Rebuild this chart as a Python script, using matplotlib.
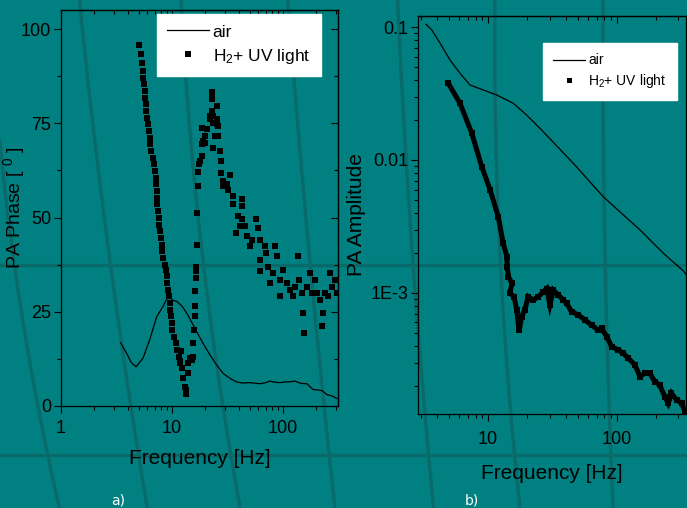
import numpy as np
import matplotlib
matplotlib.use('Agg')
import matplotlib.pyplot as plt
from matplotlib.ticker import FixedLocator, FuncFormatter, LogLocator, NullFormatter

plt.rcParams['font.family'] = ['Liberation Sans', 'DejaVu Sans']
plt.rcParams['mathtext.default'] = 'regular'

# ---- a) PA phase ----
air_f_a = [3.45, 3.9, 4.3, 4.75, 5.5, 6.3, 7.3, 8.3, 9.3, 10.2, 11.0, 12.3, 13.6, 15.5,
           17.9, 21, 25.3, 29, 33.4, 38, 43, 50, 62, 70, 76, 85, 94, 105, 115, 128, 145,
           164, 186, 224, 249, 280, 306]
air_ph_a = [16.8, 14.0, 11.5, 10.4, 12.8, 17.6, 23.8, 26.4, 29.4, 28.0, 27.8, 26.5, 24.6, 21.5,
            18.0, 14.5, 10.8, 8.6, 7.3, 6.4, 6.1, 6.2, 5.9, 6.2, 6.6, 6.3, 6.2, 6.4, 6.4, 6.6, 6.0,
            5.9, 4.4, 4.1, 3.0, 2.6, 2.0]

h2_f_a = [5.08, 5.23, 5.32, 5.45, 5.51, 5.58, 5.66, 5.73, 5.80, 5.88, 5.98, 6.1, 6.2, 6.27, 6.37,
          6.5, 6.7, 6.88, 7.07, 7.2, 7.2, 7.3, 7.35, 7.4, 7.5, 7.6, 7.7, 7.8, 7.98, 8.1, 8.2, 8.33,
          8.6, 8.8, 8.95, 9.1, 9.26, 9.4, 9.5, 9.65, 9.78, 10.0, 10.1, 10.35, 10.9, 11.2, 11.6,
          11.8, 12.2, 12.5, 13.1, 13.3, 13.5, 12.0, 11.9,
          14.0, 14.5, 15.0, 15.6, 13.8, 15.6, 15.9, 16.0, 16.1, 16.2, 16.4, 16.5, 16.6, 16.8,
          16.9, 17.0, 17.2, 17.5, 17.9, 18.5, 18.5, 19.1, 19.8, 18.5, 20.5, 22, 22.7, 22.7, 22.9,
          23.5, 25.3, 24.4, 25.3, 26.1, 22.7, 25.3, 22, 23.5, 26.1, 23.5, 19.8, 27.1, 27.9, 27.9,
          28.9, 28.9, 31.0, 33.4, 32.0, 35.7, 35.7, 42.3, 42.3, 39.4, 42.3, 37.7, 40.9, 45.3,
          46.9, 50.4, 52.2, 57.6, 59.6, 61.8, 61.8, 61.8, 68.4, 70.7, 73.2, 84.3, 87.4, 81.4,
          75.9, 94.4, 94.4, 101, 108, 116, 124, 128, 137, 140, 147, 152, 156, 163, 175, 181,
          194, 201, 216, 223, 228, 238, 256, 265, 275, 294, 305]
h2_ph_a = [95.7, 93.4, 91.1, 88.9, 87.1, 85.4, 83.6, 81.8, 80.1, 78.3, 76.5, 74.7, 72.9, 71.2, 69.4,
           67.6, 65.9, 64.1, 62.3, 60.6, 58.8, 57.0, 55.2, 53.5, 51.7, 49.9, 48.1, 46.4, 44.6,
           42.8, 41.0, 39.3, 37.5, 36.2, 34.4, 32.6, 30.9, 29.1, 27.3, 25.5, 23.8, 22.0, 20.2,
           18.4, 16.7, 14.9, 13.1, 11.4, 10.0, 7.4, 5.1, 4.3, 3.2, 14.5, 12.0,
           11.4, 12.7, 12.2, 13.1, 8.7, 16.7, 20.2, 23.8, 26.4, 30.4, 34.0, 35.7, 37.0, 42.8,
           51.2, 58.3, 62.1, 64.1, 65.0, 66.3, 69.4, 70.3, 71.6, 73.8, 73.4, 76.1, 78.3, 81.4, 83.2,
           77.0, 79.6, 71.6, 74.7, 71.6, 82.7, 76.1, 77.0, 75.2, 74.3, 68.5, 69.9, 67.7, 65.0, 61.9,
           59.7, 58.3, 58.8, 61.4, 57.4, 55.7, 53.5, 54.8, 53.0, 50.4, 49.5, 45.9, 47.7, 47.7,
           45.0, 42.4, 44.1, 49.5, 47.3, 44.1, 38.8, 35.7, 42.4, 40.6, 37.0, 42.4, 39.7, 35.3,
           32.6, 33.5, 29.1, 36.2, 32.6, 30.9, 29.1, 31.7, 39.7, 33.5, 30.0, 24.6, 19.3, 31.7, 35.3,
           30.0, 33.5, 30.0, 28.2, 21.1, 24.6, 30.0, 29.1, 35.3, 31.7, 33.5, 30.0]

# ---- b) PA amplitude ----
air_f_b = [3.3, 3.66, 4.25, 5.07, 6.06, 7.25, 9.2, 11.7, 15.7, 19.9, 25.3, 45.9, 78.3, 151, 229, 327, 343]
air_amp_b = [0.105, 0.095, 0.0754, 0.0565, 0.0449, 0.0366, 0.0336, 0.0308, 0.0267, 0.0218, 0.0173,
             0.00944, 0.0053, 0.00298, 0.00199, 0.00147, 0.00138]

h2_f_b = [4.92, 6.06, 7.48, 8.94, 10.4, 12.0, 13.1, 14.0, 14.1, 14.4, 15.3, 14.8, 15.9, 16.7, 17.4,
          17.5, 18.2, 19.3, 20.5, 22.4, 24.6, 26.8, 28.5, 30.2, 32.1, 35.1, 38.4, 40.7, 44.5, 50.1,
          56.5, 63.6, 71.5, 76.0, 83.3, 91.1, 102.5, 112, 122.5, 138, 151, 164, 180, 197, 215,
          235, 250, 265, 290, 318, 338]
h2_amp_b = [0.0377, 0.0267, 0.0159, 0.0089, 0.00594, 0.00375, 0.00237, 0.00188, 0.00158, 0.00133,
            0.00118, 0.000995, 0.000938, 0.000745, 0.000527, 0.000527, 0.000664, 0.000745, 0.000938,
            0.000885, 0.000938, 0.00102, 0.00108, 0.000813, 0.00105, 0.000966, 0.000885, 0.000836,
            0.000723, 0.000684, 0.000627, 0.000574, 0.000527, 0.000542, 0.00047, 0.000395, 0.000373,
            0.000352, 0.000323, 0.000288, 0.000235, 0.000249, 0.000249, 0.000215, 0.000203,
            0.000166, 0.000148, 0.000176, 0.000157, 0.000148, 0.000128]

# slide background decoration (pixel coords: x, y)
bg_curves = [
    [(80, 0), (86, 77), (100, 170), (108, 254), (132, 410), (147, 508)],
    [(180, 0), (190, 100), (200, 254), (223, 400), (240, 508)],
    [(288, 0), (295, 100), (310, 254), (323, 400), (335, 508)],
    [(0, 140), (20, 310), (50, 455), (58, 508)],
    [(398, 0), (402, 100), (412, 254), (425, 400), (433, 508)],
    [(495, 0), (500, 254), (520, 508)],
    [(603, 0), (605, 254), (613, 508)],
]
bg_hlines = [265, 455]

teal = '#008080'
dark = '#0a6a6a'

fig = plt.figure(figsize=(6.87, 5.08), dpi=100, facecolor=teal)

# background layer
bg = fig.add_axes([0, 0, 1, 1], zorder=-5)
bg.set_xlim(0, 687)
bg.set_ylim(508, 0)
bg.axis('off')
for c in bg_curves:
    xs = np.array([p[0] for p in c], float)
    ys = np.array([p[1] for p in c], float)
    deg = 2 if len(xs) > 2 else 1
    coef = np.polyfit(ys, xs, deg)
    yy = np.linspace(ys.min(), ys.max(), 100)
    bg.plot(np.polyval(coef, yy), yy, color=dark, lw=2.4, solid_capstyle='butt')
for h in bg_hlines:
    bg.axhline(h, color=dark, lw=2.4)


def log_x_ticks(ax):
    ax.xaxis.set_major_locator(LogLocator(base=10))
    ax.xaxis.set_minor_locator(LogLocator(base=10, subs=np.arange(2, 10)))
    ax.xaxis.set_minor_formatter(NullFormatter())
    ax.xaxis.set_major_formatter(FuncFormatter(lambda v, p: '%g' % v))


def tick_len(ax_like):
    ax_like.tick_params(which='major', length=5, width=0.8)
    ax_like.tick_params(which='minor', length=3, width=0.8)


def white_legend(leg):
    fr = leg.get_frame()
    fr.set_facecolor('white')
    fr.set_edgecolor('white')
    fr.set_alpha(1)


# ---- panel a ----
ax1 = fig.add_axes([0.0888, 0.2008, 0.403, 0.779])
ax1.set_xscale('log')
ax1.plot(air_f_a, air_ph_a, '-', color='black', lw=0.9, label='air')
ax1.plot(h2_f_a, h2_ph_a, 's', color='black', ms=3.9, mew=0, ls='none', label='H$_2$+ UV light')
ax1.set_xlim(1, 312)
ax1.set_ylim(0, 105)
ax1.set_facecolor('none')
for s in ax1.spines.values():
    s.set_color('black')
    s.set_linewidth(0.9)
ax1.yaxis.set_major_locator(FixedLocator([0, 25, 50, 75, 100]))
ax1.yaxis.set_minor_locator(FixedLocator([12.5, 37.5, 62.5, 87.5]))
log_x_ticks(ax1)
ax1.tick_params(which='both', labelsize=13, colors='black', direction='out',
                top=False, right=False)
ax1.tick_params(axis='x', pad=5)
ax1.tick_params(axis='y', pad=2)
tick_len(ax1)
sec1 = ax1.secondary_xaxis('top')
sec1.xaxis.set_major_locator(LogLocator(base=10))
sec1.xaxis.set_minor_locator(LogLocator(base=10, subs=np.arange(2, 10)))
sec1.tick_params(which='both', direction='in', labeltop=False)
tick_len(sec1)
sec1.spines['top'].set_linewidth(0.9)
secy1 = ax1.secondary_yaxis('right')
secy1.yaxis.set_major_locator(FixedLocator([0, 25, 50, 75, 100]))
secy1.yaxis.set_minor_locator(FixedLocator([12.5, 37.5, 62.5, 87.5]))
secy1.tick_params(which='both', direction='in', labelright=False)
tick_len(secy1)
secy1.spines['right'].set_linewidth(0.9)
ax1.set_xlabel('Frequency [Hz]', fontsize=15, labelpad=9)
ax1.set_ylabel('PA Phase [ $^{0}$ ]', fontsize=14)
ax1.yaxis.set_label_coords((27 - 61) / 277, 0.5)
leg1 = ax1.legend(loc='upper left', bbox_to_anchor=(157 / 687, 1 - 14 / 508),
                  bbox_transform=fig.transFigure, fontsize=12.5, frameon=True, fancybox=False,
                  handlelength=2.4, handletextpad=0.2, borderpad=0.6, borderaxespad=0,
                  labelspacing=0.4)
white_legend(leg1)

# ---- panel b ----
ax2 = fig.add_axes([0.6084, 0.185, 0.390, 0.7835])
ax2.set_xscale('log')
ax2.set_yscale('log')
ax2.plot(air_f_b, air_amp_b, '-', color='black', lw=0.9, label='air')
ax2.plot(h2_f_b, h2_amp_b, '-', color='black', lw=3.6, solid_joinstyle='miter')
ax2.plot(h2_f_b, h2_amp_b, 's', color='black', ms=4, mew=0, ls='none', label='H$_2$+ UV light')
ax2.set_xlim(2.86, 343)
ax2.set_ylim(1.23e-4, 0.121)
ax2.set_facecolor('none')
for s in ax2.spines.values():
    s.set_color('black')
    s.set_linewidth(0.9)
log_x_ticks(ax2)
ax2.yaxis.set_major_locator(FixedLocator([1e-3, 1e-2, 1e-1]))
ax2.yaxis.set_minor_locator(LogLocator(base=10, subs=np.arange(2, 10)))
ax2.yaxis.set_minor_formatter(NullFormatter())
amp_labels = {1e-3: '1E-3', 1e-2: '0.01', 1e-1: '0.1'}
ax2.yaxis.set_major_formatter(FuncFormatter(lambda v, p: amp_labels.get(round(v, 6), '')))
ax2.tick_params(which='both', labelsize=13, colors='black', direction='out',
                top=False, right=False)
ax2.tick_params(axis='x', pad=7)
ax2.tick_params(axis='y', pad=2)
tick_len(ax2)
sec2 = ax2.secondary_xaxis('top')
sec2.xaxis.set_major_locator(LogLocator(base=10))
sec2.xaxis.set_minor_locator(LogLocator(base=10, subs=np.arange(2, 10)))
sec2.tick_params(which='both', direction='in', labeltop=False)
tick_len(sec2)
sec2.spines['top'].set_linewidth(0.9)
ax2.set_xlabel('Frequency [Hz]', fontsize=15, labelpad=12)
ax2.set_ylabel('PA Amplitude', fontsize=15)
ax2.yaxis.set_label_coords((366 - 418) / 268, 0.5)
leg2 = ax2.legend(loc='upper left', bbox_to_anchor=(543 / 687, 1 - 43 / 508),
                  bbox_transform=fig.transFigure, fontsize=10, frameon=True, fancybox=False,
                  handlelength=2.3, handletextpad=0.2, borderpad=0.75, borderaxespad=0,
                  labelspacing=0.3, markerscale=0.9)
white_legend(leg2)

fig.text(118 / 687, 1 - 500 / 508, 'a)', color='white', fontsize=10, family='DejaVu Sans',
         ha='center', va='center')
fig.text(472 / 687, 1 - 500 / 508, 'b)', color='white', fontsize=10, family='DejaVu Sans',
         ha='center', va='center')

fig.savefig('out.png', dpi=100, facecolor=teal)
